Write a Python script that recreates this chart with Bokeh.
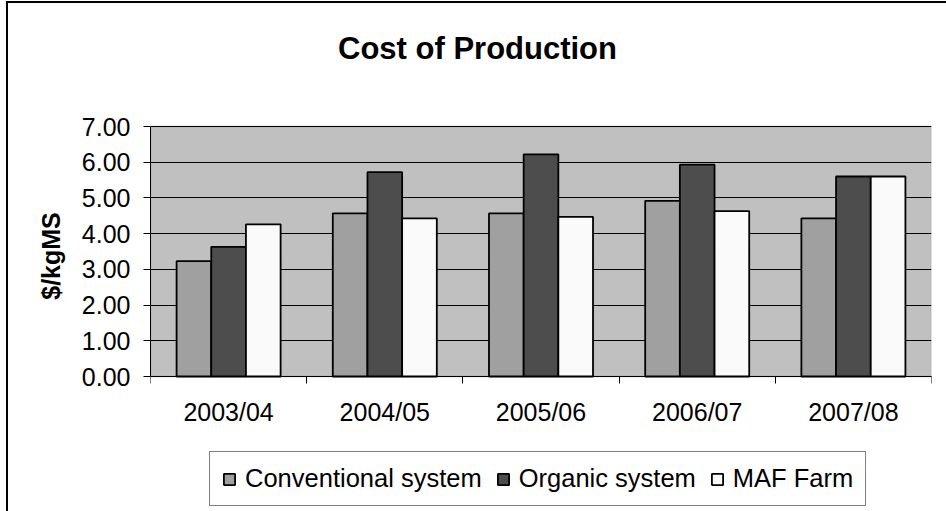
from bokeh.plotting import figure
from bokeh.models import (ColumnDataSource, Range1d, FixedTicker, PrintfTickFormatter,
                          Legend, LegendItem, BoxAnnotation, Label)
from bokeh.transform import dodge
from bokeh.embed import file_html
from bokeh.resources import INLINE

categories = ["2003/04", "2004/05", "2005/06", "2006/07", "2007/08"]
conventional = [3.23, 4.57, 4.57, 4.92, 4.43]
organic = [3.63, 5.72, 6.22, 5.93, 5.60]
maf_farm = [4.26, 4.43, 4.47, 4.63, 5.60]
y_ticks = [0, 1, 2, 3, 4, 5, 6, 7]
y_max = 7
chart_title = "Cost of Production"
y_label = "$/kgMS"
series_names = ["Conventional system", "Organic system", "MAF Farm"]

FONT = "Liberation Sans"

src = ColumnDataSource(dict(
    x=[i + 0.5 for i in range(len(categories))],
    cat=categories, conv=conventional, org=organic, maf=maf_farm,
))

# the frame spans the full height so title and legend can sit inside it;
# the value axis runs only from 0 to 7 (plot area 126..376 px)
p = figure(width=946, height=511, output_backend="svg", toolbar_location=None,
           title=None,
           x_range=Range1d(0, len(categories)), y_range=Range1d(-3.78, 10.528),
           min_border_left=150, min_border_right=15, min_border_top=0,
           min_border_bottom=0)
p.styles = {"background": "linear-gradient(black, black) 6px 1px / 2px 100% no-repeat, "
                          "linear-gradient(black, black) 6px 1px / 100% 2px no-repeat, white"}
p.background_fill_color = None
p.border_fill_alpha = 0
p.outline_line_color = None

plot_area = BoxAnnotation(left=0, right=len(categories), bottom=0, top=y_max,
                          fill_color="#C0C0C0", fill_alpha=1,
                          line_color="#8C8C8C", line_width=2, level="image")
p.add_layout(plot_area)

bw = 0.222
r1 = p.vbar(x=dodge("x", -bw, range=p.x_range), top="conv", width=bw, source=src,
            fill_color="#A0A0A0", line_color="black", line_width=1.8)
r2 = p.vbar(x=dodge("x", 0, range=p.x_range), top="org", width=bw, source=src,
            fill_color="#4D4D4D", line_color="black", line_width=1.8)
r3 = p.vbar(x=dodge("x", bw, range=p.x_range), top="maf", width=bw, source=src,
            fill_color="#FAFAFA", line_color="black", line_width=1.8)

# x axis at value 0: labels at category centres, ticks at boundaries
xa = p.xaxis[0]
xa.fixed_location = 0
xa.ticker = FixedTicker(ticks=[i + 0.5 for i in range(len(categories))],
                        minor_ticks=list(range(len(categories) + 1)))
xa.major_label_overrides = {i + 0.5: c for i, c in enumerate(categories)}
xa.major_tick_out = 0
xa.major_tick_in = 0
xa.minor_tick_out = 7
xa.minor_tick_in = 0
xa.minor_tick_line_color = "black"
xa.axis_line_color = "black"
xa.major_label_text_font = FONT
xa.major_label_text_font_size = "25px"
xa.major_label_text_color = "black"
xa.major_label_standoff = 14

ya = p.yaxis[0]
ya.bounds = (0, y_max)
ya.ticker = FixedTicker(ticks=y_ticks, minor_ticks=[])
ya.formatter = PrintfTickFormatter(format="%.2f")
ya.major_tick_out = 7
ya.major_tick_in = 0
ya.major_tick_line_color = "black"
ya.axis_line_color = "black"
ya.major_label_text_font = FONT
ya.major_label_text_font_size = "25px"
ya.major_label_text_color = "black"
ya.major_label_standoff = 13
ya.axis_label = y_label
ya.axis_label_text_font = FONT
ya.axis_label_text_font_size = "25px"
ya.axis_label_text_font_style = "bold"
ya.axis_label_text_color = "black"
ya.axis_label_standoff = 14

p.xgrid.visible = False
p.ygrid.grid_line_color = "black"
p.ygrid.grid_line_width = 1
p.ygrid.ticker = FixedTicker(ticks=y_ticks)

title = Label(x=327, y=463, x_units="screen", y_units="screen",
              text=chart_title, text_font=FONT, text_font_size="31px",
              text_font_style="bold", text_align="center",
              text_baseline="alphabetic", text_color="black")
p.add_layout(title)

legend = Legend(items=[LegendItem(label=series_names[0], renderers=[r1]),
                       LegendItem(label=series_names[1], renderers=[r2]),
                       LegendItem(label=series_names[2], renderers=[r3])],
                location=(59, 5), orientation="horizontal",
                label_text_font=FONT, label_text_font_size="25.5px",
                label_text_color="black", glyph_width=14, glyph_height=14,
                label_standoff=9, spacing=14, padding=12, margin=0,
                border_line_color="black", border_line_width=1,
                background_fill_color="white", background_fill_alpha=1)
p.add_layout(legend)

open("out.html", "w").write(file_html(p, INLINE))
